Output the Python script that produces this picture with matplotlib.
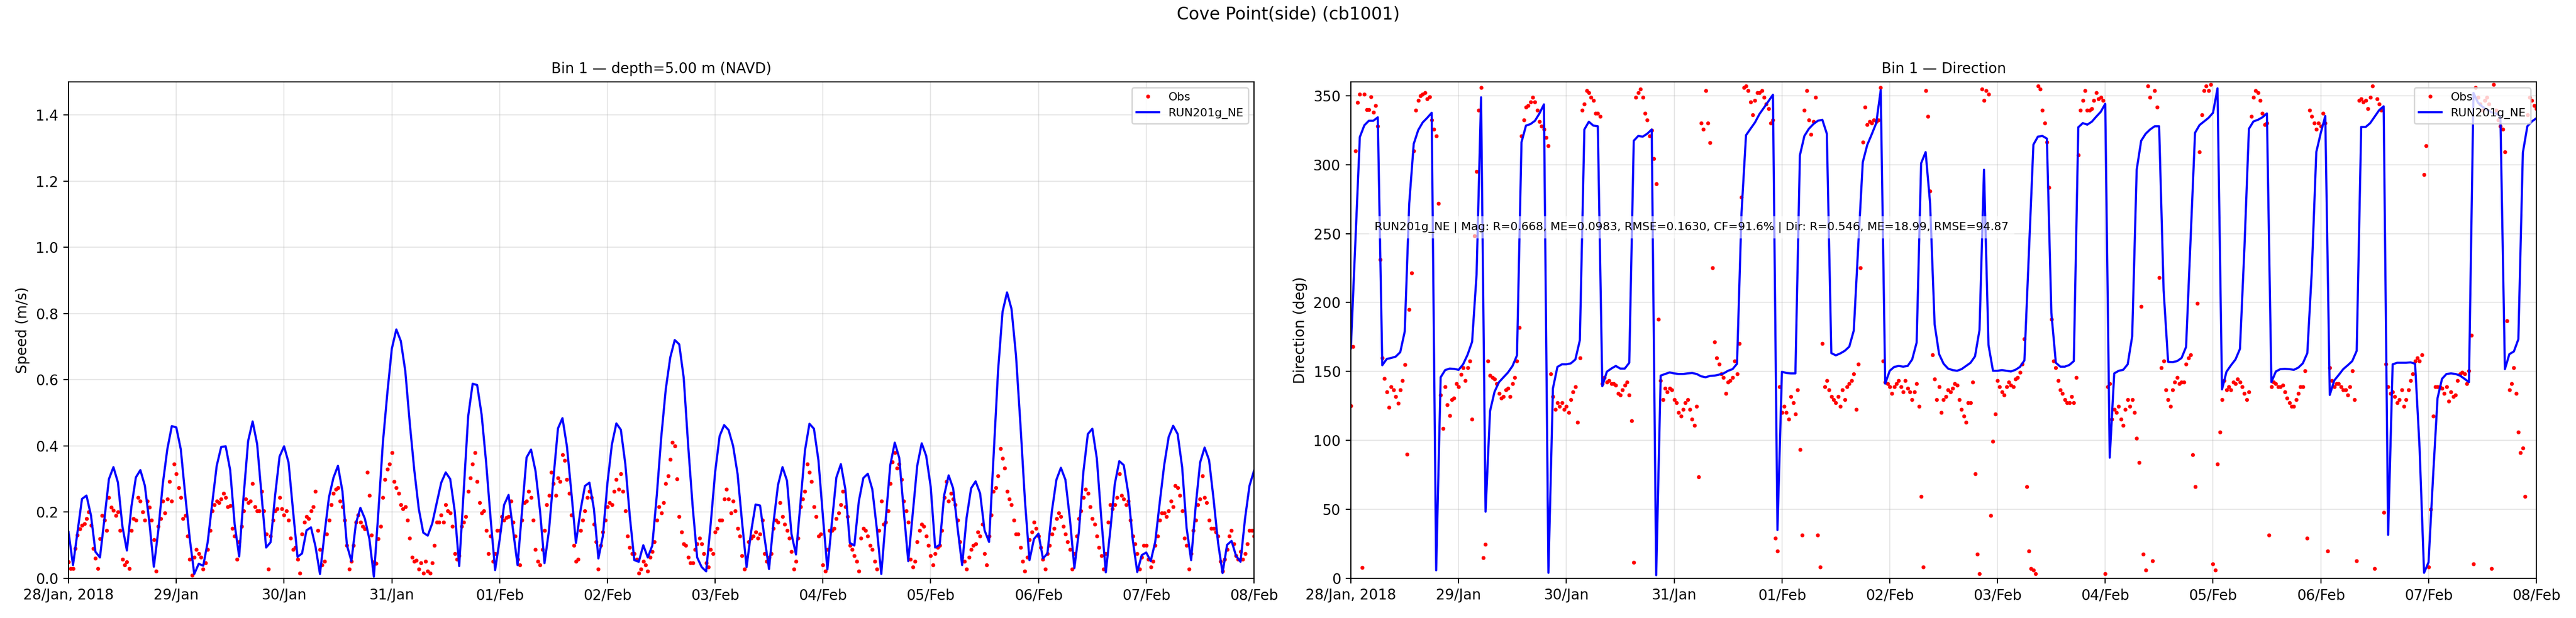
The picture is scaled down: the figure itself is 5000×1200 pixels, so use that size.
import numpy as np
import pandas as pd
import matplotlib
matplotlib.use('Agg')
import matplotlib.pyplot as plt
import matplotlib.dates as mdates
from matplotlib.ticker import FuncFormatter

# start of the record, model is hourly, obs every 30 min
start = '2018-01-28 00:00'
end = '2018-02-08 00:00'

# model speed (m/s), hourly, one row per day
mod_spd = [
    0.14, 0.04, 0.14, 0.24, 0.25, 0.19, 0.08, 0.063, 0.18, 0.30, 0.336, 0.29, 0.157, 0.084, 0.216, 0.305, 0.327, 0.28, 0.17, 0.035, 0.145, 0.286, 0.39, 0.46,
    0.456, 0.39, 0.25, 0.12, 0.013, 0.044, 0.038, 0.11, 0.227, 0.34, 0.397, 0.399, 0.327, 0.163, 0.066, 0.25, 0.415, 0.474, 0.406, 0.25, 0.093, 0.109, 0.25, 0.368,
    0.399, 0.35, 0.204, 0.065, 0.075, 0.145, 0.154, 0.096, 0.013, 0.134, 0.245, 0.304, 0.34, 0.263, 0.10, 0.052, 0.166, 0.213, 0.18, 0.119, 0.005, 0.2, 0.409, 0.56,
    0.694, 0.752, 0.717, 0.626, 0.468, 0.327, 0.21, 0.138, 0.129, 0.166, 0.228, 0.289, 0.32, 0.30, 0.204, 0.037, 0.263, 0.489, 0.588, 0.584, 0.494, 0.35, 0.18, 0.025,
    0.116, 0.222, 0.252, 0.145, 0.04, 0.204, 0.365, 0.389, 0.324, 0.204, 0.046, 0.145, 0.304, 0.453, 0.484, 0.398, 0.257, 0.107, 0.204, 0.279, 0.289, 0.21, 0.06, 0.128,
    0.286, 0.404, 0.468, 0.449, 0.345, 0.187, 0.055, 0.05, 0.10, 0.063, 0.099, 0.25, 0.427, 0.571, 0.667, 0.72, 0.707, 0.606, 0.40, 0.216, 0.063, 0.034, 0.021, 0.163,
    0.321, 0.43, 0.463, 0.448, 0.40, 0.315, 0.169, 0.034, 0.14, 0.223, 0.22, 0.122, 0.028, 0.169, 0.282, 0.336, 0.295, 0.134, 0.072, 0.228, 0.386, 0.467, 0.452, 0.357,
    0.187, 0.027, 0.169, 0.305, 0.345, 0.269, 0.107, 0.099, 0.233, 0.303, 0.316, 0.269, 0.151, 0.013, 0.18, 0.342, 0.41, 0.364, 0.204, 0.052, 0.195, 0.34, 0.408, 0.37,
    0.277, 0.093, 0.101, 0.251, 0.311, 0.272, 0.151, 0.04, 0.183, 0.272, 0.293, 0.257, 0.145, 0.11, 0.368, 0.626, 0.805, 0.864, 0.814, 0.673, 0.462, 0.233, 0.055, 0.119,
    0.135, 0.06, 0.075, 0.204, 0.298, 0.334, 0.298, 0.18, 0.031, 0.14, 0.321, 0.436, 0.452, 0.362, 0.18, 0.018, 0.145, 0.285, 0.354, 0.342, 0.257, 0.116, 0.019, 0.07,
    0.078, 0.052, 0.11, 0.228, 0.342, 0.427, 0.461, 0.436, 0.336, 0.151, 0.055, 0.216, 0.35, 0.395, 0.357, 0.239, 0.107, 0.016, 0.101, 0.113, 0.068, 0.05, 0.18, 0.28,
    0.325,
]

# observed speed (m/s), every 30 min, one row per day
obs_spd = [
    0.05, 0.03, 0.03, 0.09, 0.13, 0.15, 0.16, 0.165, 0.18, 0.20, 0.16, 0.09, 0.06, 0.03, 0.12, 0.19, 0.175, 0.145, 0.245, 0.215, 0.205, 0.19, 0.20, 0.145,
    0.057, 0.04, 0.05, 0.03, 0.145, 0.18, 0.175, 0.245, 0.233, 0.20, 0.175, 0.233, 0.215, 0.175, 0.116, 0.022, 0.157, 0.18, 0.233, 0.198, 0.24, 0.292, 0.233, 0.345,
    0.316, 0.274, 0.245, 0.18, 0.19, 0.128, 0.057, 0.01, 0.063, 0.087, 0.075, 0.063, 0.028, 0.046, 0.087, 0.145, 0.204, 0.222, 0.233, 0.228, 0.24, 0.257, 0.245, 0.216,
    0.219, 0.151, 0.128, 0.057, 0.11, 0.157, 0.204, 0.24, 0.228, 0.233, 0.286, 0.216, 0.204, 0.204, 0.263, 0.204, 0.134, 0.028, 0.128, 0.175, 0.204, 0.21, 0.245, 0.21,
    0.192, 0.204, 0.175, 0.122, 0.087, 0.093, 0.057, 0.016, 0.134, 0.169, 0.187, 0.18, 0.204, 0.216, 0.263, 0.145, 0.087, 0.04, 0.052, 0.134, 0.175, 0.222, 0.257, 0.269,
    0.274, 0.233, 0.216, 0.175, 0.099, 0.028, 0.052, 0.099, 0.169, 0.192, 0.169, 0.157, 0.15, 0.32, 0.25, 0.13, 0.05, 0.045, 0.12, 0.157, 0.245, 0.298, 0.33, 0.345,
    0.38, 0.292, 0.274, 0.257, 0.222, 0.21, 0.216, 0.175, 0.122, 0.063, 0.052, 0.055, 0.028, 0.046, 0.016, 0.052, 0.022, 0.016, 0.046, 0.099, 0.169, 0.169, 0.192, 0.169,
    0.222, 0.204, 0.198, 0.157, 0.075, 0.057, 0.069, 0.157, 0.169, 0.187, 0.263, 0.304, 0.345, 0.38, 0.292, 0.228, 0.198, 0.204, 0.145, 0.075, 0.128, 0.052, 0.075, 0.145,
    0.145, 0.187, 0.175, 0.184, 0.187, 0.233, 0.169, 0.128, 0.057, 0.04, 0.175, 0.228, 0.233, 0.263, 0.245, 0.175, 0.087, 0.052, 0.04, 0.087, 0.145, 0.222, 0.251, 0.321,
    0.286, 0.251, 0.304, 0.292, 0.374, 0.357, 0.298, 0.257, 0.192, 0.099, 0.052, 0.057, 0.145, 0.175, 0.204, 0.245, 0.263, 0.245, 0.163, 0.11, 0.028, 0.099, 0.14, 0.175,
    0.216, 0.228, 0.222, 0.263, 0.298, 0.269, 0.316, 0.263, 0.204, 0.128, 0.093, 0.075, 0.075, 0.057, 0.016, 0.028, 0.052, 0.04, 0.022, 0.063, 0.081, 0.11, 0.175, 0.216,
    0.198, 0.228, 0.286, 0.31, 0.36, 0.41, 0.40, 0.30, 0.187, 0.14, 0.104, 0.099, 0.063, 0.046, 0.046, 0.087, 0.104, 0.122, 0.104, 0.075, 0.046, 0.034, 0.087, 0.075,
    0.14, 0.151, 0.175, 0.175, 0.24, 0.269, 0.24, 0.198, 0.233, 0.204, 0.151, 0.128, 0.069, 0.028, 0.063, 0.11, 0.122, 0.128, 0.14, 0.122, 0.134, 0.175, 0.075, 0.052,
    0.063, 0.075, 0.151, 0.175, 0.169, 0.228, 0.187, 0.163, 0.145, 0.122, 0.081, 0.028, 0.052, 0.122, 0.216, 0.24, 0.263, 0.345, 0.321, 0.292, 0.216, 0.187, 0.128, 0.134,
    0.04, 0.022, 0.087, 0.145, 0.145, 0.151, 0.18, 0.198, 0.222, 0.263, 0.216, 0.187, 0.099, 0.087, 0.069, 0.052, 0.022, 0.122, 0.151, 0.145, 0.128, 0.099, 0.087, 0.052,
    0.028, 0.145, 0.233, 0.163, 0.169, 0.204, 0.286, 0.351, 0.38, 0.333, 0.345, 0.298, 0.233, 0.204, 0.169, 0.057, 0.034, 0.052, 0.11, 0.145, 0.163, 0.157, 0.128, 0.099,
    0.069, 0.04, 0.075, 0.093, 0.099, 0.145, 0.245, 0.292, 0.233, 0.257, 0.24, 0.222, 0.175, 0.11, 0.063, 0.052, 0.028, 0.063, 0.087, 0.099, 0.104, 0.14, 0.128, 0.163,
    0.075, 0.04, 0.128, 0.192, 0.263, 0.274, 0.31, 0.392, 0.362, 0.333, 0.263, 0.24, 0.222, 0.175, 0.134, 0.134, 0.093, 0.052, 0.022, 0.063, 0.116, 0.14, 0.169, 0.151,
    0.128, 0.093, 0.057, 0.028, 0.075, 0.099, 0.134, 0.151, 0.18, 0.198, 0.187, 0.157, 0.134, 0.11, 0.087, 0.028, 0.075, 0.128, 0.18, 0.204, 0.245, 0.269, 0.257, 0.216,
    0.18, 0.163, 0.128, 0.093, 0.069, 0.028, 0.075, 0.169, 0.222, 0.21, 0.222, 0.245, 0.316, 0.251, 0.24, 0.222, 0.233, 0.175, 0.128, 0.104, 0.075, 0.028, 0.063, 0.099,
    0.099, 0.057, 0.034, 0.052, 0.099, 0.128, 0.175, 0.198, 0.198, 0.187, 0.204, 0.233, 0.216, 0.28, 0.274, 0.251, 0.204, 0.122, 0.099, 0.028, 0.075, 0.145, 0.175, 0.222,
    0.24, 0.31, 0.245, 0.228, 0.175, 0.151, 0.151, 0.14, 0.128, 0.052, 0.022, 0.057, 0.087, 0.128, 0.145, 0.104, 0.069, 0.057, 0.081, 0.057, 0.075, 0.104, 0.145, 0.145,
    0.128,
]

# model direction (deg), hourly
mod_dir = [
    166.8, 243, 320, 328.5, 331.8, 331.8, 334.3, 154.5, 159.1, 159.8, 160.8, 164, 179, 271.8, 315, 325, 330.6, 333.9, 337.6, 5.8, 145.8, 151, 152.1, 151.9,
    151.2, 155.2, 162.2, 171.5, 220.5, 348.8, 48.3, 121.3, 135.3, 142.3, 145.8, 149.3, 154, 161.7, 316.2, 328.3, 329.4, 331.8, 337.1, 343.7, 4, 137.7, 153.3, 155.2,
    155.2, 155.9, 158.7, 172.7, 325.5, 331.1, 328.3, 327.8, 139.3, 149.8, 152.1, 154, 152.1, 152.1, 156.3, 317.3, 320.8, 320.3, 322.4, 325.5, 2.3, 147, 148.2, 149.3,
    148.6, 148.2, 148.2, 148.6, 148.9, 148.2, 146.5, 145.8, 146.8, 147, 147.7, 148.6, 150.5, 151.7, 155.6, 265, 321.3, 326, 330.6, 336.7, 341.3, 346, 350.7, 35,
    149.8, 148.9, 148.6, 148.6, 306.8, 320.8, 326, 329.4, 331.8, 332.5, 322.4, 163.3, 161.7, 163.1, 165, 168, 179.7, 241.5, 301.7, 314.3, 322, 330.1, 354, 141.2,
    150.5, 153.3, 154, 153.5, 154, 158.7, 171, 301, 309.1, 271.8, 184.3, 162.6, 155.6, 152.1, 151, 150.5, 151.7, 154, 156.3, 161, 180.1, 296.3, 169.2, 150.5,
    150.5, 151, 150.5, 150, 151.2, 153.3, 158, 236, 314.5, 320.3, 320.8, 318.9, 192.5, 156.3, 153.5, 153.5, 154.7, 157.5, 327.1, 330.1, 329, 331.1, 334.8, 338.3,
    344.1, 87.5, 148.6, 150.5, 151.2, 155.2, 175.5, 296.3, 317.3, 322.4, 325.5, 327.8, 327.8, 208.8, 157, 156.8, 157.5, 159.8, 167.8, 245.4, 323.1, 328.7, 331.3, 333.9,
    337.6, 355.3, 137, 149.8, 154.5, 158.7, 166.4, 240, 326, 331.3, 332.5, 334.3, 337.1, 142.3, 150, 151.7, 151.9, 151.7, 151.2, 152.8, 155.9, 163.3, 222.8, 309.1,
    323, 335.3, 133, 143.5, 147.5, 151.7, 154.5, 157.5, 165, 327.3, 327.3, 330.1, 334.8, 339.5, 342.3, 31.5, 155.2, 156.3, 156.3, 156.3, 156.6, 155.6, 94.5, 4,
    11.7, 73.5, 130.7, 144.7, 148.2, 148.6, 148.2, 147, 144.7, 142.3, 352, 345, 342, 340, 338, 337, 335, 151.7, 162.6, 164.5, 173.4, 308.7, 327.8, 331.3,
    333.6,
]

# observed direction (deg), every 30 min
obs_dir = [
    125, 168, 310, 345, 351, 8, 351, 340, 340, 349, 338, 343, 328, 231, 160, 145, 135, 124, 139, 136.5, 132, 127, 136.5, 143.5,
    155, 90, 195, 221.6, 310, 339.5, 346.5, 350, 351, 352.3, 347.6, 349, 332.5, 325.5, 320.8, 272, 133, 108.5, 139, 126, 118, 129.5, 130.7, 141,
    139, 148, 152.8, 143.5, 152.8, 157.5, 115.5, 248.5, 295, 339.5, 356, 15, 24.5, 157.5, 147, 145.8, 144.7, 141, 134, 130.7, 132, 136.5, 137.7, 132,
    141, 145.8, 157.5, 182, 320.8, 332.5, 341.8, 343, 345.3, 348.8, 345.3, 339.5, 331.3, 327.8, 325.5, 319.6, 313.8, 148.2, 131.8, 122.5, 127.2, 124.8, 127.2, 122.5,
    124.8, 120.2, 129.5, 135.3, 138.8, 113.2, 159.8, 339.5, 344.1, 353.5, 352.3, 348.8, 346.5, 337.1, 337.1, 334.8, 141.2, 145.8, 142.3, 143.5, 141.2, 141.2, 140, 134.2,
    133, 136.5, 140, 142.3, 133, 114.3, 11.7, 348.8, 352.3, 354.6, 348.8, 337.1, 332.5, 320.8, 325, 304.5, 286, 188, 143.5, 129.5, 137.7, 135.3, 137.7, 136.5,
    129.5, 127.2, 120.2, 117.8, 122.5, 127.2, 129.5, 122.5, 115.5, 110.8, 124.8, 73.5, 330, 325.5, 353.5, 330, 316, 225, 171.5, 160, 155.2, 148.2, 145.8, 134.2,
    142.3, 143.5, 145.8, 157.5, 148.2, 170.3, 276.5, 355.8, 357, 353.5, 345.3, 336, 346.5, 352.3, 352.3, 353.5, 348.8, 344.1, 340.6, 330.1, 332.5, 29.2, 19.8, 138.8,
    120.2, 124.8, 120.2, 115.5, 131.8, 127.2, 119, 136.5, 93.3, 31.5, 339.5, 353.5, 332.5, 322, 331.3, 348.8, 31.5, 8.2, 170.3, 138.8, 143.5, 136.5, 131.8, 129.5,
    127.2, 131.8, 124.8, 136.5, 129.5, 138.8, 141.2, 143.5, 148.2, 122.5, 155.2, 225.2, 316.2, 341.8, 329, 331.3, 330.1, 332.5, 331.3, 332.5, 355.8, 157.5, 142.3, 141.2,
    138.8, 134.2, 138.8, 141.2, 143.5, 138.8, 135.3, 143.5, 137.7, 135.3, 129.5, 135.3, 141.2, 124.8, 59.5, 8.2, 353.5, 334.8, 281, 162.2, 144.7, 129.5, 138.8, 120.2,
    129.5, 131.8, 136.5, 135.3, 137.7, 141.2, 140, 129.5, 122.5, 117.8, 113.2, 127.2, 127.2, 142.3, 75.8, 17.5, 3.5, 354.6, 346.5, 353.5, 351.2, 45.5, 99.2, 119,
    143.5, 138.8, 135.3, 133, 138.8, 142.3, 140, 138.8, 144.7, 145.8, 149.3, 155.2, 173.8, 66.5, 19.8, 7, 5.8, 3.5, 357, 354.6, 339.5, 330.1, 316.2, 283.5,
    187.8, 157.5, 152.8, 143.5, 136.5, 134.2, 129.5, 127.2, 127.2, 131.8, 127.2, 145.8, 306.8, 339.5, 346.5, 353.5, 339.5, 339.5, 340.6, 346.5, 352.3, 347.6, 348.8, 346.5,
    3.5, 138.8, 141.2, 115.5, 122.5, 120.2, 124.8, 115.5, 110.8, 122.5, 129.5, 124.8, 129.5, 120.2, 101.5, 84, 197.2, 17.5, 5.8, 357, 348.8, 12.8, 353.5, 341.8,
    218.2, 152.8, 157.5, 136.5, 129.5, 124.8, 136.5, 142.3, 145.8, 141.2, 142.3, 142.3, 155.2, 159.8, 162.2, 89.8, 66.5, 199.5, 309.1, 336, 353.5, 357, 353.5, 358,
    10.5, 5.8, 82.8, 106.2, 129.5, 143.5, 136.5, 138.8, 136.5, 142.3, 141.2, 144.7, 142.3, 138.8, 134.2, 129.5, 135, 335, 348.8, 353.5, 352.3, 346.5, 337.1, 329,
    330.1, 31.5, 138.8, 142.3, 141.2, 138.8, 138.8, 140, 135.3, 130.7, 127.2, 124.8, 124.8, 129.5, 134.2, 138.8, 138.8, 150.5, 29.2, 339.5, 334.8, 330.1, 325.5, 330.1,
    327.8, 337.1, 330.1, 19.8, 152.8, 143.5, 138.8, 141.2, 141.2, 138.8, 136.5, 136.5, 133, 138.8, 150.5, 129.5, 12.8, 346.5, 347.6, 345.3, 346.5, 340.6, 348.8, 357,
    7, 347.6, 344.1, 339.5, 47.8, 155.2, 138.8, 134.2, 135.3, 131.8, 127.2, 129.5, 136.5, 124.8, 129.5, 136.5, 143.5, 148.2, 157.5, 159.8, 157.5, 162.2, 292.8, 313.8,
    8.2, 50.2, 117.8, 138.8, 138.8, 138.8, 137.7, 134.2, 138.8, 128.3, 135.3, 131.8, 133, 143.5, 148.2, 149.3, 148.2, 141.2, 150.5, 176.2, 10.5, 355.8, 348.8, 344.1,
    339.5, 346.5, 348.8, 344.1, 7, 358, 339.5, 332.5, 327.8, 325.5, 309.1, 186.7, 136.5, 141.2, 152.8, 134.2, 106.2, 91, 94.5, 59.5, 336, 348.8, 346.5, 343,
    340.6,
]

stats_text = ('RUN201g_NE | Mag: R=0.668, ME=0.0983, RMSE=0.1630, CF=91.6% | '
              'Dir: R=0.546, ME=18.99, RMSE=94.87')

t_mod = pd.date_range(start, periods=len(mod_spd), freq='1h')
t_obs = pd.date_range(start, periods=len(obs_spd), freq='30min')


def day_fmt(x, pos):
    d = mdates.num2date(x)
    if pos == 0:
        return d.strftime('%d/%b, %Y')
    return d.strftime('%d/%b')


def style_time_axis(ax):
    ax.set_xlim(pd.Timestamp(start), pd.Timestamp(end))
    ax.xaxis.set_major_locator(mdates.DayLocator())
    ax.xaxis.set_major_formatter(FuncFormatter(day_fmt))
    ax.grid(True, alpha=0.3)


fig, (ax1, ax2) = plt.subplots(1, 2, figsize=(25, 6), dpi=200)
fig.subplots_adjust(left=0.0266, right=0.9846, bottom=0.0642, top=0.8675, wspace=0.0817)

# speed
ax1.plot(t_obs, obs_spd, '.', color='red', markersize=3.5, label='Obs')
ax1.plot(t_mod, mod_spd, '-', color='blue', linewidth=1.5, label='RUN201g_NE')
ax1.set_ylim(0, 1.5)
ax1.set_ylabel('Speed (m/s)')
ax1.set_title('Bin 1 \u2014 depth=5.00 m (NAVD)', fontsize=10)
style_time_axis(ax1)
ax1.legend(loc='upper right', fontsize=8)

# direction
ax2.plot(t_obs, obs_dir, '.', color='red', markersize=3.5, label='Obs')
ax2.plot(t_mod, mod_dir, '-', color='blue', linewidth=1.5, label='RUN201g_NE')
ax2.set_ylim(0, 360)
ax2.set_yticks(np.arange(0, 351, 50))
ax2.set_ylabel('Direction (deg)')
ax2.set_title('Bin 1 \u2014 Direction', fontsize=10)
style_time_axis(ax2)
ax2.legend(loc='upper right', fontsize=8)
ax2.text(0.02, 0.707, stats_text, transform=ax2.transAxes, fontsize=8, va='center',
         bbox=dict(facecolor='white', alpha=0.6, edgecolor='none'))

fig.suptitle('Cove Point(side) (cb1001)', fontsize=12, y=0.99)
fig.savefig('out.png', dpi=200)
